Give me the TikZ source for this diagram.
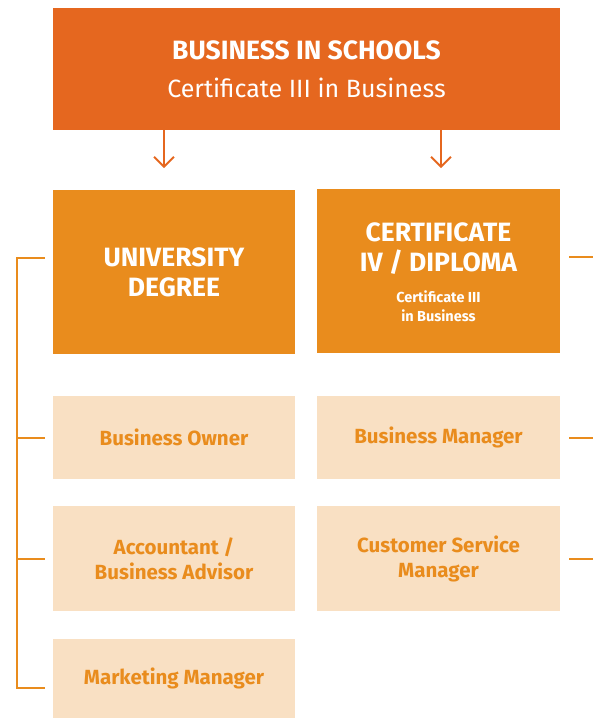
\documentclass[tikz,border=0pt]{standalone}
\usepackage{fontspec}
\setmainfont{Fira Sans}
\usetikzlibrary{arrows.meta}
\definecolor{topor}{HTML}{E5671F}
\definecolor{midor}{HTML}{E98C1D}
\definecolor{lightor}{HTML}{F9E0C3}
\tikzset{
  topbox/.style={fill=topor, text=white, minimum width=507pt, minimum height=122pt, inner sep=0pt, align=center},
  midbox/.style={fill=midor, text=white, minimum width=242pt, minimum height=164pt, inner sep=0pt, align=center, font=\fontsize{26.5}{30}\selectfont\bfseries},
  jobbox/.style={fill=lightor, text=midor, minimum width=242pt, inner sep=0pt, align=center, font=\fontsize{20.5}{25}\selectfont\bfseries},
  link/.style={draw=midor, line width=2pt},
  arr/.style={draw=topor, line width=2pt, -{Straight Barb[length=10pt,width=20pt,line width=2pt]}}
}
\begin{document}
\begin{tikzpicture}[x=1pt, y=-1pt]
\useasboundingbox (0,0) rectangle (593,718);
% top box
\node[topbox] (top) at (306.5,69) {{\fontsize{26.5}{30}\selectfont\bfseries BUSINESS IN SCHOOLS}\\[17pt]
{\fontsize{25}{30}\selectfont Certificate III in Business}};
% pathways
\node[midbox] (uni) at (174,272) {UNIVERSITY\\DEGREE};
\node[midbox, minimum width=243pt] (cert) at (438.5,271) {};
\node[text=white, align=center, inner sep=0pt, font=\fontsize{26.5}{30}\selectfont\bfseries] (certtxt) at (438.5,275) {CERTIFICATE\\IV / DIPLOMA\\[10pt]
{\fontsize{14.5}{19}\selectfont\begin{tabular}{@{}c@{}}Certificate III\\in Business\end{tabular}}};
% jobs
\node[jobbox, minimum height=83pt] (bo) at (174,437.5) {Business Owner};
\node[jobbox, minimum height=105pt] (acc) at (174,558.5) {Accountant /\\Business Advisor};
\node[jobbox, minimum height=79pt] (mm) at (174,678.5) {Marketing Manager};
\node[jobbox, minimum width=243pt, minimum height=83pt] (bm) at (438.5,437.5) {Business Manager};
\node[jobbox, minimum width=243pt, minimum height=105pt] (csm) at (438.5,558.5) {Customer Service\\Manager};
% arrows
\draw[arr] ([xshift=-142.5pt]top.south) -- ++(0,38);
\draw[arr] ([xshift=134.5pt]top.south) -- ++(0,38);
% left bracket
\coordinate (spine) at (17,0);
\draw[link] ([shift={(-8,-14)}]uni.west) -- ([shift={(0,-14)}]uni.west -| spine) |- ([shift={(-8,9.5)}]mm.west);
\draw[link] ([xshift=-8pt]bo.west) -- (bo.west -| spine);
\draw[link] ([xshift=-8pt]acc.west) -- (acc.west -| spine);
% right ticks
\draw[link] ([shift={(9,-14)}]cert.east) -- ++(24,0);
\draw[link] ([xshift=9pt]bm.east) -- ++(24,0);
\draw[link] ([xshift=9pt]csm.east) -- ++(24,0);
\end{tikzpicture}
\end{document}
